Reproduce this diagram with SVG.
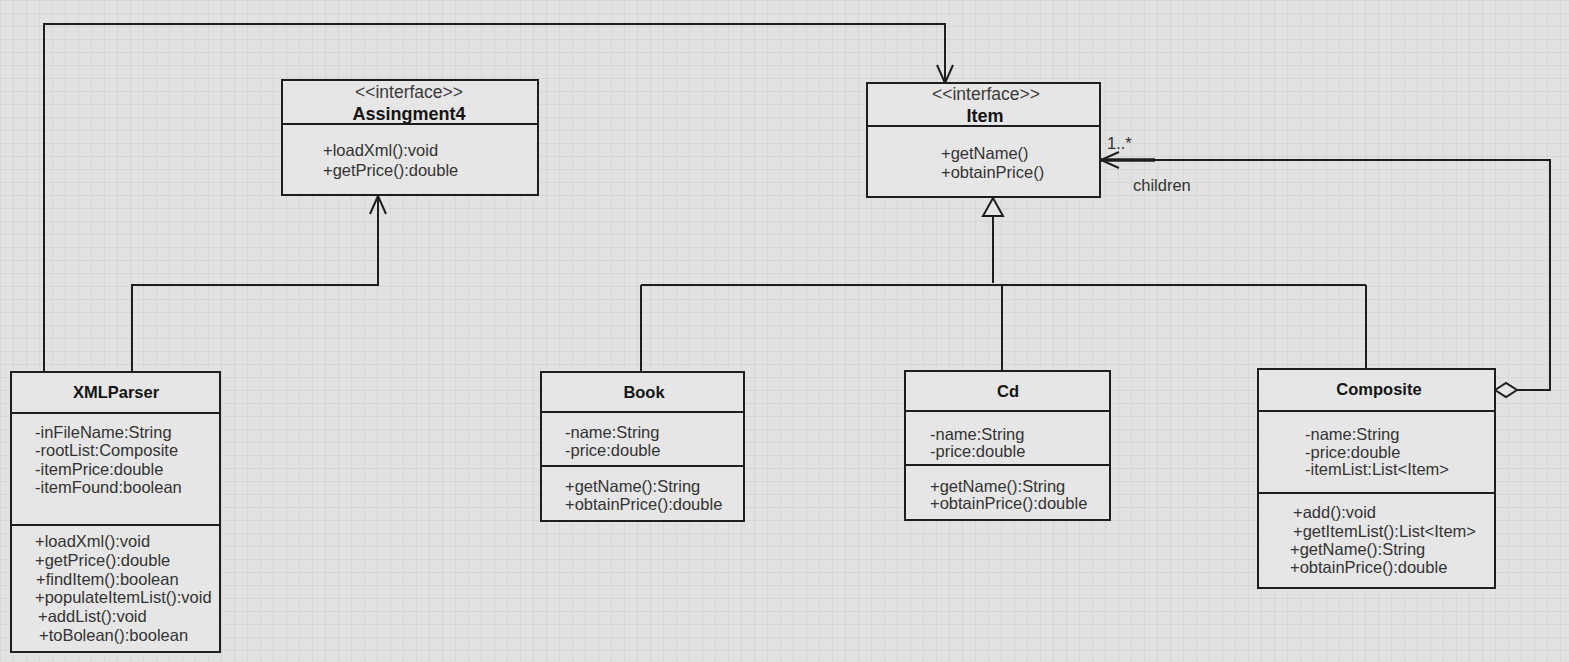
<svg xmlns="http://www.w3.org/2000/svg" width="1569" height="662" viewBox="0 0 1569 662">
<style>
.box{fill:#e6e6e6;stroke:#1e1e1e;stroke-width:2}
.div{stroke:#1e1e1e;stroke-width:2}
.t{font-family:"Liberation Sans",Arial,sans-serif;font-size:16.5px;fill:#333333}
.b{font-family:"Liberation Sans",Arial,sans-serif;font-size:16.5px;font-weight:bold;fill:#141414;text-anchor:middle}
.st{font-family:"Liberation Sans",Arial,sans-serif;font-size:17.5px;fill:#3a3a3a;text-anchor:middle}
.bi{font-family:"Liberation Sans",Arial,sans-serif;font-size:18px;font-weight:bold;fill:#141414;text-anchor:middle}
.ln{fill:none;stroke:#1e1e1e;stroke-width:2}
</style>
<defs>
<pattern id="grid" width="13" height="13" patternUnits="userSpaceOnUse">
<path d="M13,0 L0,0 0,13" fill="none" stroke="#cbcbcb" stroke-width="1"/>
</pattern>
<marker id="open" markerUnits="userSpaceOnUse" markerWidth="24" markerHeight="24" viewBox="-20 -12 24 24" refX="0" refY="0" orient="auto" overflow="visible">
<path d="M-18,-8 L0,0 L-18,8" fill="none" stroke="#1e1e1e" stroke-width="2"/>
</marker>
<marker id="tri" markerUnits="userSpaceOnUse" markerWidth="24" markerHeight="24" viewBox="-20 -12 24 24" refX="0" refY="0" orient="auto" overflow="visible">
<path d="M-18,-10 L0,0 L-18,10 Z" fill="#e6e6e6" stroke="#1e1e1e" stroke-width="2"/>
</marker>
<marker id="dia" markerUnits="userSpaceOnUse" markerWidth="26" markerHeight="20" viewBox="-2 -10 26 20" refX="0" refY="0" orient="auto" overflow="visible">
<path d="M0,0 L11,-7 L22,0 L11,7 Z" fill="#e6e6e6" stroke="#1e1e1e" stroke-width="2"/>
</marker>
</defs>
<rect width="1569" height="662" fill="#e2e2e2"/>
<rect width="1569" height="662" fill="url(#grid)"/>

<g id="connectors">
<path class="ln" d="M44,372 V24 H945 V83" marker-end="url(#open)"/>
<path class="ln" d="M132,372 V285 H378 V196" marker-end="url(#open)"/>
<path class="ln" d="M993,283 V198" marker-end="url(#tri)"/>
<path class="ln" d="M641,285 H1366"/>
<path class="ln" d="M641,285 V372"/>
<path class="ln" d="M1002,285 V371"/>
<path class="ln" d="M1366,285 V369"/>
<path class="ln" d="M1495,390 H1550 V160 H1101" marker-start="url(#dia)" marker-end="url(#open)"/>
<path d="M1101,160 H1155" stroke="#1e1e1e" stroke-width="3.5"/>
<text class="t" x="1107" y="149">1..*</text>
<text class="t" x="1133" y="191">children</text>
</g>

<g id="Assingment4">
<rect class="box" x="282" y="80" width="256" height="115"/>
<line class="div" x1="282" y1="124" x2="538" y2="124"/>
<text class="st" x="409" y="98">&lt;&lt;interface&gt;&gt;</text>
<text class="bi" x="409" y="120">Assingment4</text>
<text class="t" x="323" y="156">+loadXml():void</text>
<text class="t" x="323" y="176">+getPrice():double</text>
</g>

<g id="Item">
<rect class="box" x="867" y="83" width="233" height="114"/>
<line class="div" x1="867" y1="126" x2="1100" y2="126"/>
<text class="st" x="986" y="100">&lt;&lt;interface&gt;&gt;</text>
<text class="bi" x="985" y="122">Item</text>
<text class="t" x="941" y="159">+getName()</text>
<text class="t" x="941" y="178">+obtainPrice()</text>
</g>

<g id="XMLParser">
<rect class="box" x="11" y="372" width="209" height="280"/>
<line class="div" x1="11" y1="413" x2="220" y2="413"/>
<line class="div" x1="11" y1="525" x2="220" y2="525"/>
<text class="b" x="116" y="398">XMLParser</text>
<text class="t" x="35" y="438">-inFileName:String</text>
<text class="t" x="35" y="456">-rootList:Composite</text>
<text class="t" x="35" y="475">-itemPrice:double</text>
<text class="t" x="35" y="493">-itemFound:boolean</text>
<text class="t" x="35" y="547">+loadXml():void</text>
<text class="t" x="35" y="566">+getPrice():double</text>
<text class="t" x="36" y="585">+findItem():boolean</text>
<text class="t" x="35" y="603">+populateItemList():void</text>
<text class="t" x="38" y="622">+addList():void</text>
<text class="t" x="39" y="641">+toBolean():boolean</text>
</g>

<g id="Book">
<rect class="box" x="541" y="372" width="203" height="149"/>
<line class="div" x1="541" y1="412" x2="744" y2="412"/>
<line class="div" x1="541" y1="466" x2="744" y2="466"/>
<text class="b" x="644" y="398">Book</text>
<text class="t" x="565" y="438">-name:String</text>
<text class="t" x="565" y="456">-price:double</text>
<text class="t" x="565" y="492">+getName():String</text>
<text class="t" x="565" y="510">+obtainPrice():double</text>
</g>

<g id="Cd">
<rect class="box" x="905" y="371" width="205" height="149"/>
<line class="div" x1="905" y1="411" x2="1110" y2="411"/>
<line class="div" x1="905" y1="465" x2="1110" y2="465"/>
<text class="b" x="1008" y="397">Cd</text>
<text class="t" x="930" y="440">-name:String</text>
<text class="t" x="930" y="457">-price:double</text>
<text class="t" x="930" y="492">+getName():String</text>
<text class="t" x="930" y="509">+obtainPrice():double</text>
</g>

<g id="Composite">
<rect class="box" x="1258" y="369" width="237" height="219"/>
<line class="div" x1="1258" y1="411" x2="1495" y2="411"/>
<line class="div" x1="1258" y1="493" x2="1495" y2="493"/>
<text class="b" x="1379" y="395">Composite</text>
<text class="t" x="1305" y="440">-name:String</text>
<text class="t" x="1305" y="458">-price:double</text>
<text class="t" x="1305" y="475">-itemList:List&lt;Item&gt;</text>
<text class="t" x="1293" y="518">+add():void</text>
<text class="t" x="1293" y="537">+getItemList():List&lt;Item&gt;</text>
<text class="t" x="1290" y="555">+getName():String</text>
<text class="t" x="1290" y="573">+obtainPrice():double</text>
</g>
</svg>
